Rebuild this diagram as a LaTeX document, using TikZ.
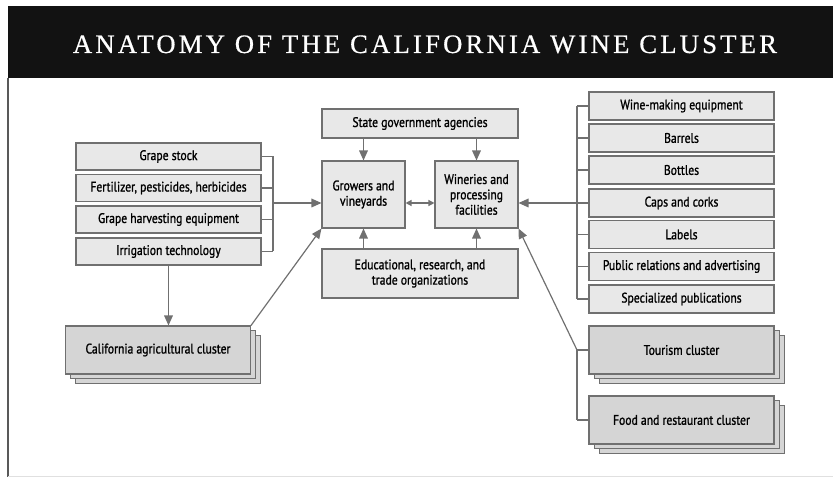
\documentclass[tikz,border=0pt]{standalone}
\usepackage{fontspec}
\setmainfont{PT Sans}[FakeStretch=0.84,FakeBold=1.2]
\newfontfamily\titlefont{Liberation Serif}[LetterSpace=12,FakeBold=0.6]
\usetikzlibrary{arrows.meta,shadows}
\definecolor{boxfill}{HTML}{E8E8E8}
\definecolor{clusterfill}{HTML}{D5D5D5}
\definecolor{linegray}{HTML}{707070}
\newdimen\pxu
\pxu=0.75pt

\begin{document}
\begin{tikzpicture}[x=0.75pt,y=-0.75pt,
  box/.style={draw=linegray,fill=boxfill,line width=0.8pt,inner sep=1pt,align=center,
    font=\fontsize{10.4}{11.5}\selectfont},
  sidebox/.style={box,minimum width=185\pxu,minimum height=27\pxu},
  midbox/.style={box,minimum width=83\pxu,minimum height=67\pxu},
  cluster/.style={box,fill=clusterfill,minimum width=185\pxu,minimum height=48\pxu,
    double copy shadow={shadow xshift=3.8pt,shadow yshift=-3.4pt}},
  link/.style={draw=linegray,line width=0.9pt},
  arr/.style={link,-{Triangle[length=7.5pt,width=6.5pt]}}]
\useasboundingbox (0,0) rectangle (833,477);
\fill[black!93] (8,6) rectangle (833,78);
\draw[black!65,line width=1.5pt] (8,78) -- (8,477);
\draw[black!12] (8,476) -- (833,476);
\node[text=white,anchor=base,font=\titlefont\fontsize{20}{22}\selectfont] (title) at (425,53) {ANATOMY OF THE CALIFORNIA WINE CLUSTER};

\node[sidebox] (stock) at (168.5,156.5) {Grape stock};
\node[sidebox] (fert) at (168.5,188) {Fertilizer, pesticides, herbicides};
\node[sidebox] (harv) at (168.5,219.5) {Grape harvesting equipment};
\node[sidebox] (irr) at (168.5,251.5) {Irrigation technology};
\node[cluster] (agri) at (158,350) {California agricultural cluster};

\node[box,minimum width=196\pxu,minimum height=29\pxu] (state) at (420,123.5) {State government agencies};
\node[midbox] (grow) at (363.5,194.5) {Growers and\\vineyards};
\node[midbox] (winery) at (476.5,194.5) {Wineries and\\processing\\facilities};
\node[box,minimum width=196\pxu,minimum height=49\pxu] (edu) at (420,273.5) {Educational, research, and\\trade organizations};

\node[sidebox,minimum height=28\pxu] (equip) at (681.5,106) {Wine-making equipment};
\node[sidebox,minimum height=28\pxu] (barrel) at (681.5,138) {Barrels};
\node[sidebox,minimum height=28\pxu] (bottle) at (681.5,170) {Bottles};
\node[sidebox,minimum height=28\pxu] (cork) at (681.5,203) {Caps and corks};
\node[sidebox,minimum height=28\pxu] (label) at (681.5,234.5) {Labels};
\node[sidebox,minimum height=28\pxu] (pr) at (681.5,266.5) {Public relations and advertising};
\node[sidebox,minimum height=28\pxu] (pub) at (681.5,299) {Specialized publications};
\node[cluster] (tour) at (681.5,350) {Tourism cluster};
\node[cluster] (food) at (681.5,420) {Food and restaurant cluster};

\coordinate (lbus) at (273,203);
\coordinate (rbus) at (577,203);
\coordinate (cbus) at (577,350);
\foreach \n in {stock,fert,harv,irr} \draw[link] (\n.east) -- (lbus |- \n.east);
\draw[link] (lbus |- stock.east) -- (lbus |- irr.east);
\draw[arr] (lbus) -- (grow.west |- lbus);
\foreach \n in {equip,barrel,bottle,cork,label,pr,pub} \draw[link] (\n.west) -- (rbus |- \n.west);
\draw[link] (rbus |- equip.west) -- (rbus |- pub.west);
\draw[arr] (rbus) -- (winery.east |- rbus);
\foreach \n in {tour,food} \draw[link] (\n.west) -- (cbus |- \n.west);
\draw[link] (cbus) -- (cbus |- food.west);
\draw[arr] (cbus) -- (winery.south east);
\draw[arr] (irr.south) -- (irr.south |- agri.north);
\draw[arr] (agri.north east) -- (grow.south west);
\draw[arr] (state.south -| grow) -- (grow.north);
\draw[arr] (state.south -| winery) -- (winery.north);
\draw[arr] (edu.north -| grow) -- (grow.south);
\draw[arr] (edu.north -| winery) -- (winery.south);
\draw[link,{Triangle[length=4.5pt,width=4.5pt]}-{Triangle[length=4.5pt,width=4.5pt]}] (grow.east |- lbus) -- (winery.west |- lbus);
\end{tikzpicture}
\end{document}
